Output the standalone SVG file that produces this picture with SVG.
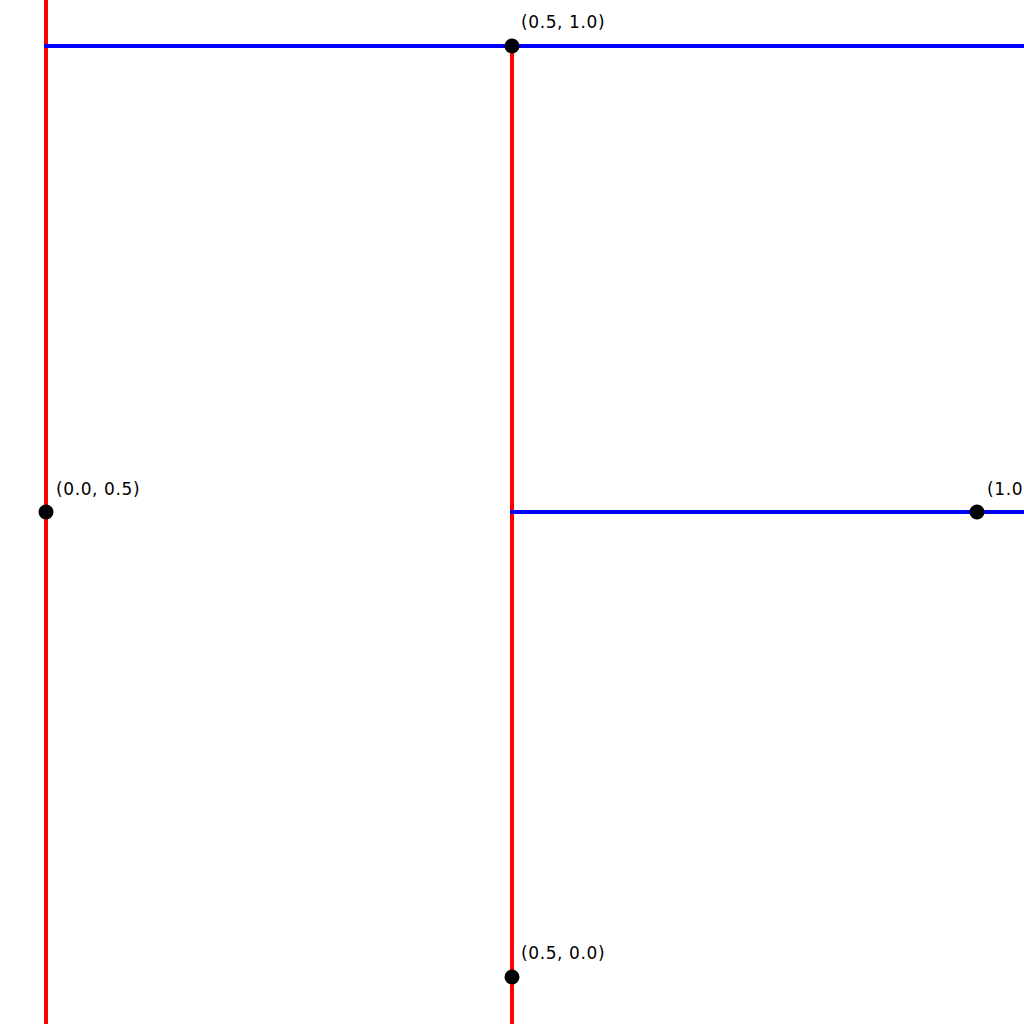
<svg xmlns="http://www.w3.org/2000/svg" width="1024" height="1024" viewBox="0 0 1024 1024">
<style>
.r{stroke:#ff0000;stroke-width:4;fill:none}
.b{stroke:#0000ff;stroke-width:4;fill:none}
.pt{fill:#000000}
.lbl{font-family:"DejaVu Sans",Verdana,sans-serif;font-size:17px;letter-spacing:0.6px;fill:#000000}
</style>
<rect width="1024" height="1024" fill="#ffffff"/>
<g id="connectors">
<line class="r" x1="46" y1="0" x2="46" y2="1024"/>
<line class="b" x1="44" y1="46" x2="1024" y2="46"/>
<line class="r" x1="512" y1="46" x2="512" y2="1024"/>
<line class="b" x1="510" y1="512" x2="1024" y2="512"/>
</g>
<g id="p-05-10"><circle class="pt" cx="512" cy="46" r="7.5"/><text class="lbl" x="521" y="28">(0.5, 1.0)</text></g>
<g id="p-00-05"><circle class="pt" cx="46" cy="512" r="7.5"/><text class="lbl" x="56" y="495">(0.0, 0.5)</text></g>
<g id="p-10-05"><circle class="pt" cx="977" cy="512" r="7.5"/><text class="lbl" x="987" y="495">(1.0, 0.5)</text></g>
<g id="p-05-00"><circle class="pt" cx="512" cy="977" r="7.5"/><text class="lbl" x="521" y="959">(0.5, 0.0)</text></g>
</svg>
